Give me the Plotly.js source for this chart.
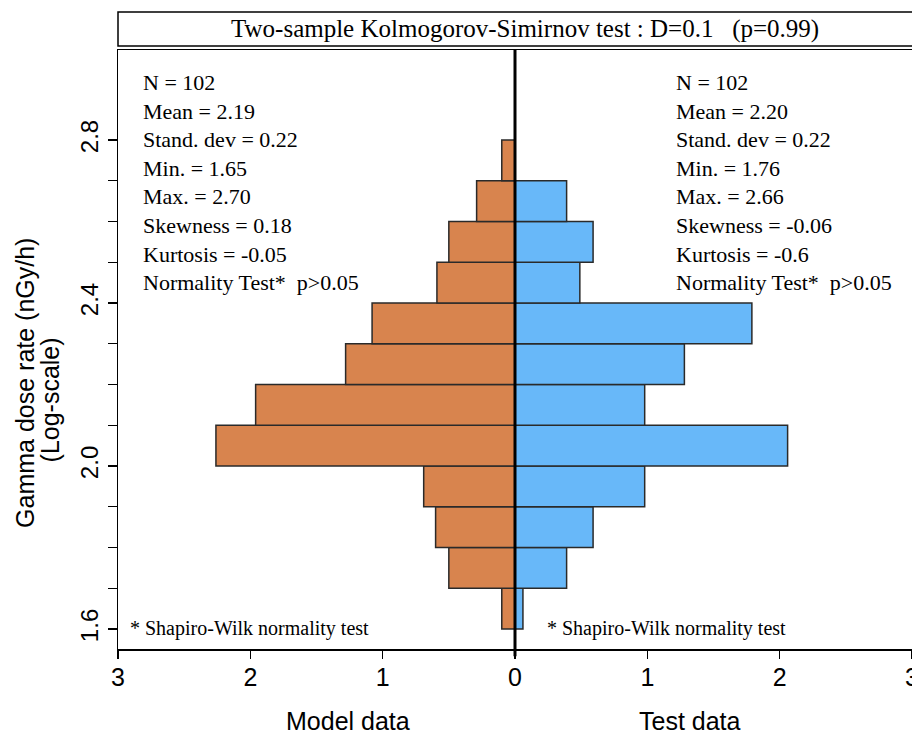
<!DOCTYPE html>
<html>
<head>
<meta charset="utf-8">
<script src="https://cdn.plot.ly/plotly-3.0.1.min.js"></script>
<style>html,body{margin:0;padding:0;background:#fff;}#chart{width:912px;height:736px;}</style>
</head>
<body>
<div id="chart"></div>
<script>
// Bin centres (log-scale gamma dose rate), bin width 0.1
const binCenters = [1.65, 1.75, 1.85, 1.95, 2.05, 2.15, 2.25, 2.35, 2.45, 2.55, 2.65, 2.75];
// Density values
const modelDensity = [0.10, 0.50, 0.60, 0.69, 2.26, 1.96, 1.28, 1.08, 0.59, 0.50, 0.29, 0.10];
const testDensity  = [0.06, 0.39, 0.59, 0.98, 2.06, 0.98, 1.28, 1.79, 0.49, 0.59, 0.39, 0];
const xTickVals  = [-3, -2, -1, 0, 1, 2, 3];
const xTickText  = ['3', '2', '1', '0', '1', '2', '3'];
const yTickVals  = [1.6, 1.7, 1.8, 1.9, 2.0, 2.1, 2.2, 2.3, 2.4, 2.5, 2.6, 2.7, 2.8];
const yTickText  = ['1.6', '', '', '', '2.0', '', '', '', '2.4', '', '', '', '2.8'];
const modelStats = ['N = 102', 'Mean = 2.19', 'Stand. dev = 0.22', 'Min. = 1.65', 'Max. = 2.70', 'Skewness = 0.18', 'Kurtosis = -0.05', 'Normality Test*  p>0.05'];
const testStats  = ['N = 102', 'Mean = 2.20', 'Stand. dev = 0.22', 'Min. = 1.76', 'Max. = 2.66', 'Skewness = -0.06', 'Kurtosis = -0.6', 'Normality Test*  p>0.05'];
const titleText = 'Two-sample Kolmogorov-Simirnov test : D=0.1&#160;&#160;&#160;(p=0.99)';
const footText = '* Shapiro-Wilk normality test';

const serif = 'Liberation Serif, Times New Roman, serif';
const sans = 'Liberation Sans, Arial, sans-serif';

const traces = [
  {
    type: 'bar', orientation: 'h', y: binCenters, x: modelDensity.map(v => -v), width: 0.1,
    marker: {color: '#D8844E', line: {color: '#2a2a2a', width: 1.5}},
    name: 'Model data', hoverinfo: 'skip'
  },
  {
    type: 'bar', orientation: 'h', y: binCenters, x: testDensity, width: 0.1,
    marker: {color: '#68B8F9', line: {color: '#2a2a2a', width: 1.5}},
    name: 'Test data', hoverinfo: 'skip'
  }
];

const layout = {
  width: 912, height: 736,
  margin: {l: 118, r: 0, t: 50, b: 87},
  paper_bgcolor: '#ffffff', plot_bgcolor: '#ffffff',
  showlegend: false,
  barmode: 'overlay',
  xaxis: {
    range: [-3, 3], tickvals: xTickVals, ticktext: xTickText,
    showgrid: false, zeroline: false,
    showline: true, mirror: true, linecolor: '#000', linewidth: 1.5,
    ticks: 'outside', ticklen: 8, tickcolor: '#000', tickwidth: 1.2,
    ticklabeloverflow: 'allow', ticklabelstandoff: -3,
    tickfont: {family: sans, size: 25, color: '#000'}
  },
  yaxis: {
    range: [1.551, 3.021], tickvals: yTickVals, ticktext: yTickText,
    tickangle: -90,
    showgrid: false, zeroline: false,
    showline: true, mirror: false, linecolor: '#000', linewidth: 1.5,
    ticks: 'outside', ticklen: 9, tickcolor: '#000', tickwidth: 1.2,
    tickfont: {family: sans, size: 24, color: '#000'}
  },
  shapes: [
    {type: 'rect', xref: 'paper', yref: 'paper', x0: 0, x1: 1.02, y0: 1.0067, y1: 1.0634,
     line: {color: '#000', width: 1.5}, fillcolor: 'rgba(0,0,0,0)'},
    {type: 'line', xref: 'x', yref: 'paper', x0: 0, x1: 0, y0: -0.012, y1: 1,
     line: {color: '#000', width: 3}}
  ],
  annotations: [
    {text: titleText, xref: 'paper', yref: 'paper', x: 0.5126, y: 1.035, xanchor: 'center', yanchor: 'middle',
     showarrow: false, font: {family: serif, size: 25, color: '#000'}},
    {text: modelStats.join('<br>'), xref: 'paper', yref: 'paper', x: 0.029, y: 0.970, xanchor: 'left', yanchor: 'top',
     align: 'left', showarrow: false, font: {family: serif, size: 22, color: '#000'}},
    {text: testStats.join('<br>'), xref: 'paper', yref: 'paper', x: 0.700, y: 0.970, xanchor: 'left', yanchor: 'top',
     align: 'left', showarrow: false, font: {family: serif, size: 22, color: '#000'}},
    {text: footText, xref: 'paper', yref: 'paper', x: 0.0126, y: 0.035, xanchor: 'left', yanchor: 'middle',
     showarrow: false, font: {family: serif, size: 20, color: '#000'}},
    {text: footText, xref: 'paper', yref: 'paper', x: 0.538, y: 0.035, xanchor: 'left', yanchor: 'middle',
     showarrow: false, font: {family: serif, size: 20, color: '#000'}},
    {text: 'Model data', xref: 'paper', yref: 'paper', x: 0.29, y: -0.121, xanchor: 'center', yanchor: 'middle',
     showarrow: false, font: {family: sans, size: 25, color: '#000'}},
    {text: 'Test data', xref: 'paper', yref: 'paper', x: 0.72, y: -0.121, xanchor: 'center', yanchor: 'middle',
     showarrow: false, font: {family: sans, size: 25, color: '#000'}},
    {text: 'Gamma dose rate (nGy/h)', xref: 'paper', yref: 'paper', x: -0.1165, y: 0.445, xanchor: 'center', yanchor: 'middle',
     textangle: -90, showarrow: false, font: {family: sans, size: 25, color: '#000'}},
    {text: '(Log-scale)', xref: 'paper', yref: 'paper', x: -0.0856, y: 0.415, xanchor: 'center', yanchor: 'middle',
     textangle: -90, showarrow: false, font: {family: sans, size: 25, color: '#000'}}
  ]
};

Plotly.newPlot('chart', traces, layout, {staticPlot: true, displayModeBar: false});
</script>
</body>
</html>
